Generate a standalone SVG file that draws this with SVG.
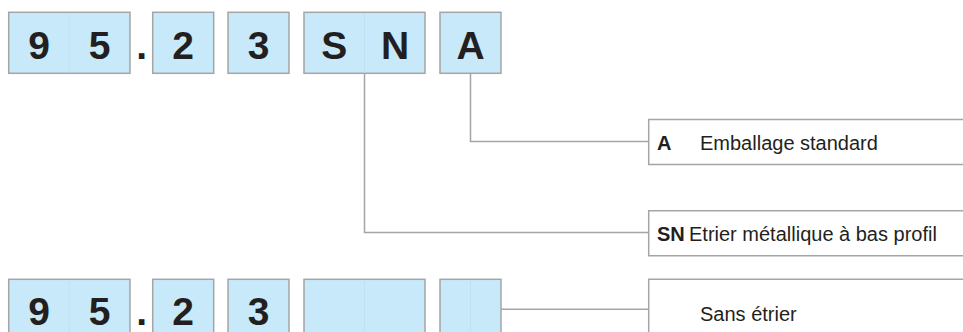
<svg xmlns="http://www.w3.org/2000/svg" width="963" height="332" viewBox="0 0 963 332">
<style>
.box{fill:#c7e9f9;stroke:#a5a5a5;stroke-width:1.5}
.div{stroke:#bfe2f2;stroke-width:1}
.big{font-family:"Liberation Sans",Arial,sans-serif;font-weight:bold;font-size:39px;fill:#231f20;text-anchor:middle}
.panel{fill:#ffffff;stroke:#a5a5a5;stroke-width:1.5}
.lbl{font-family:"Liberation Sans",Arial,sans-serif;font-size:20px;fill:#231f20}
.b{font-weight:bold}
.conn{fill:none;stroke:#a5a5a5;stroke-width:1.5}
</style>
<rect width="963" height="332" fill="#ffffff"/>
<g id="code-top">
  <g id="t-95">
    <rect class="box" x="8.7" y="12.3" width="121.3" height="61"/>
    <line class="div" x1="69.3" y1="13" x2="69.3" y2="72.6"/>
    <text class="big" x="39" y="59.3">9</text>
    <text class="big" x="99.5" y="59.3">5</text>
  </g>
  <text class="big" x="141.7" y="59.3">.</text>
  <g id="t-2">
    <rect class="box" x="152.7" y="12.3" width="61" height="61"/>
    <text class="big" x="183.2" y="59.3">2</text>
  </g>
  <g id="t-3">
    <rect class="box" x="228" y="12.3" width="61" height="61"/>
    <text class="big" x="258.5" y="59.3">3</text>
  </g>
  <g id="t-SN">
    <rect class="box" x="304" y="12.3" width="121" height="61"/>
    <line class="div" x1="364.5" y1="13" x2="364.5" y2="72.6"/>
    <text class="big" x="334.3" y="59.3">S</text>
    <text class="big" x="395" y="59.3">N</text>
  </g>
  <g id="t-A">
    <rect class="box" x="440" y="12.3" width="61" height="61"/>
    <text class="big" x="470.5" y="59.3">A</text>
  </g>
</g>
<g id="code-bottom">
  <g id="b-95">
    <rect class="box" x="8.7" y="279.3" width="121.3" height="61"/>
    <line class="div" x1="69.3" y1="280" x2="69.3" y2="332"/>
    <text class="big" x="39" y="325">9</text>
    <text class="big" x="99.5" y="325">5</text>
  </g>
  <text class="big" x="141.7" y="325">.</text>
  <g id="b-2">
    <rect class="box" x="152.7" y="279.3" width="61" height="61"/>
    <text class="big" x="183.2" y="325">2</text>
  </g>
  <g id="b-3">
    <rect class="box" x="228" y="279.3" width="61" height="61"/>
    <text class="big" x="258.5" y="325">3</text>
  </g>
  <g id="b-empty1">
    <rect class="box" x="304" y="279.3" width="121" height="61"/>
    <line class="div" x1="364.5" y1="280" x2="364.5" y2="332"/>
  </g>
  <g id="b-empty2">
    <rect class="box" x="440" y="279.3" width="61" height="61"/>
    <line class="div" x1="470.5" y1="280" x2="470.5" y2="332"/>
  </g>
</g>
<g id="connectors">
  <path class="conn" d="M470.5,73.3 V141.5 H648.7"/>
  <path class="conn" d="M364.5,73.3 V232.5 H648.7"/>
  <path class="conn" d="M501,309.3 H648.7"/>
</g>
<g id="panel-A">
  <path class="panel" d="M965,119.5 H648.7 V164.5 H965"/>
  <text class="lbl b" x="657" y="150">A</text>
  <text class="lbl" x="700" y="150">Emballage standard</text>
</g>
<g id="panel-SN">
  <path class="panel" d="M965,210.7 H648.7 V255.7 H965"/>
  <text class="lbl b" x="657" y="240.5">SN</text>
  <text class="lbl" x="689" y="240.5">Etrier métallique à bas profil</text>
</g>
<g id="panel-sans">
  <path class="panel" d="M965,279.3 H648.7 V345"/>
  <text class="lbl" x="700" y="321">Sans étrier</text>
</g>
</svg>
